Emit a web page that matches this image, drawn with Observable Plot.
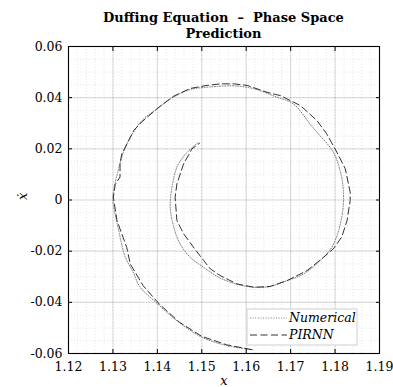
<!DOCTYPE html>
<html>
<head>
<meta charset="utf-8">
<script src="https://cdn.jsdelivr.net/npm/d3@7"></script>
<script src="https://cdn.jsdelivr.net/npm/@observablehq/plot@0.6"></script>
<style>
  body { margin: 0; background: white; width: 393px; height: 387px; overflow: hidden; position: relative; }
  #title { position: absolute; left: 68px; top: 0; width: 311px; height: 40px; padding-top: 10px; box-sizing: border-box; z-index: 2;
    font-family: "DejaVu Serif", serif; font-weight: bold; font-size: 13px; line-height: 15.5px; text-align: center; white-space: pre; color: #000; }
  #chart { position: absolute; left: 0; top: 30px; }
</style>
</head>
<body>
<div id="chart"></div>
<div id="title">Duffing Equation  –  Phase Space
Prediction</div>
<script>
// Numerical solution (phase space: x, x-dot)
const xNum = [1.1615,1.1556,1.1500,1.1450,1.1400,1.1361,1.1345,1.1328,1.1313,1.1300,1.1303,1.1310,1.1318,1.1328,1.1362,1.1399,1.1436,1.1474,1.1512,1.1545,1.1575,1.1617,1.1669,1.1706,1.1749,1.1796,1.1812,1.1818,1.1818,1.1808,1.1793,1.1774,1.1729,1.1692,1.1647,1.1602,1.1564,1.1538,1.1504,1.1474,1.1451,1.1437,1.1429,1.1433,1.1444,1.1459,1.1475,1.1493];
const vNum = [-0.0585,-0.0569,-0.0536,-0.0480,-0.0405,-0.0340,-0.0280,-0.0224,-0.0119,0.0000,0.0050,0.0102,0.0155,0.0206,0.0304,0.0356,0.0402,0.0432,0.0441,0.0445,0.0446,0.0435,0.0402,0.0376,0.0285,0.0187,0.0110,0.0050,-0.0030,-0.0119,-0.0184,-0.0224,-0.0289,-0.0315,-0.0340,-0.0338,-0.0321,-0.0302,-0.0263,-0.0224,-0.0171,-0.0106,-0.0028,0.0050,0.0128,0.0170,0.0200,0.0226];
// PIRNN prediction
const xPir = [1.1612,1.1556,1.1500,1.1450,1.1405,1.1368,1.1339,1.1331,1.1309,1.1301,1.1305,1.1316,1.1316,1.1316,1.1320,1.1347,1.1365,1.1400,1.1436,1.1474,1.1512,1.1542,1.1572,1.1602,1.1647,1.1677,1.1722,1.1759,1.1781,1.1804,1.1823,1.1834,1.1834,1.1827,1.1815,1.1796,1.1774,1.1737,1.1692,1.1654,1.1617,1.1579,1.1541,1.1519,1.1504,1.1481,1.1459,1.1444,1.1440,1.1444,1.1459,1.1478,1.1495];
const vPir = [-0.0585,-0.0566,-0.0533,-0.0478,-0.0408,-0.0335,-0.0250,-0.0185,-0.0080,0.0011,0.0060,0.0090,0.0128,0.0145,0.0180,0.0272,0.0305,0.0358,0.0405,0.0436,0.0448,0.0454,0.0454,0.0448,0.0421,0.0408,0.0369,0.0311,0.0259,0.0187,0.0122,0.0030,-0.0002,-0.0080,-0.0145,-0.0191,-0.0224,-0.0276,-0.0315,-0.0338,-0.0341,-0.0328,-0.0295,-0.0269,-0.0236,-0.0184,-0.0132,-0.0080,0.0011,0.0063,0.0141,0.0200,0.0222];
const xTicks = [1.12,1.13,1.14,1.15,1.16,1.17,1.18,1.19];
const yTicks = [-0.06,-0.04,-0.02,0,0.02,0.04,0.06];
const xMinor = d3.range(0, 36).map(i => +(1.12 + i*0.002).toFixed(3));
const yMinor = d3.range(0, 25).map(i => +(-0.06 + i*0.005).toFixed(3));
const seriesNames = ["Numerical", "PIRNN"];

const numData = xNum.map((x, i) => ({x, v: vNum[i]}));
const pirData = xPir.map((x, i) => ({x, v: vPir[i]}));

const fmtY = d => d === 0 ? "0" : d.toFixed(2);
const fmtX = d => d.toFixed(2);
const FONT = "'DejaVu Serif', serif";

const chart = Plot.plot({
  width: 393,
  height: 357,
  marginLeft: 68,
  marginRight: 14,
  marginTop: 16,
  marginBottom: 34,
  style: {fontFamily: FONT, fontSize: "12.5px", background: "transparent", color: "black"},
  x: {domain: [1.12, 1.19], label: null},
  y: {domain: [-0.06, 0.06], label: null},
  marks: [
    Plot.ruleX(xMinor, {stroke: "#000", strokeOpacity: 0.12, strokeDasharray: "1,2", strokeWidth: 0.8}),
    Plot.ruleY(yMinor, {stroke: "#000", strokeOpacity: 0.12, strokeDasharray: "1,2", strokeWidth: 0.8}),
    Plot.ruleX(xTicks, {stroke: "#000", strokeOpacity: 0.12, strokeWidth: 1.2}),
    Plot.ruleY(yTicks, {stroke: "#000", strokeOpacity: 0.12, strokeWidth: 1.2}),
    Plot.line(numData, {x: "x", y: "v", stroke: "#7a7a7a", strokeWidth: 1, strokeDasharray: "1,1.6", curve: "catmull-rom"}),
    Plot.line(pirData, {x: "x", y: "v", stroke: "#333", strokeWidth: 1, strokeDasharray: "7,3.5"}),
    Plot.axisX({anchor: "bottom", ticks: xTicks, tickFormat: fmtX, tickSize: 0, tickPadding: 8.5, label: null}),
    Plot.axisY({anchor: "left", ticks: yTicks, tickFormat: fmtY, tickSize: 0, tickPadding: 6, label: null}),
    Plot.axisX({anchor: "bottom", ticks: xTicks, tickSize: 4, dy: -4, text: null, label: null, strokeWidth: 1}),
    Plot.axisX({anchor: "top", ticks: xTicks, tickSize: 4, dy: 4, text: null, label: null, strokeWidth: 1}),
    Plot.axisY({anchor: "left", ticks: yTicks, tickSize: 4, dx: 4, text: null, label: null, strokeWidth: 1}),
    Plot.axisY({anchor: "right", ticks: yTicks, tickSize: 4, dx: -4, text: null, label: null, strokeWidth: 1}),
    Plot.frame({stroke: "black", strokeWidth: 1.1}),
    Plot.text(["x"], {frameAnchor: "bottom", dy: 31, fontStyle: "italic", fontSize: 13}),
    Plot.text(["ẋ"], {frameAnchor: "left", dx: -46, rotate: -90, fontStyle: "italic", fontSize: 13})
  ]
});
document.getElementById("chart").appendChild(chart);

// Legend (inside lower right of axes)
const svg = d3.select(chart);
const lg = svg.append("g").attr("transform", "translate(247,279)");
lg.append("rect").attr("width", 110).attr("height", 36).attr("fill", "white").attr("stroke", "#d0d0d0").attr("stroke-width", 1);
const styles = [
  {stroke: "#7a7a7a", dash: "1,1.6"},
  {stroke: "#333", dash: "7,3.5"}
];
seriesNames.forEach((name, i) => {
  const yy = 9 + i * 17;
  lg.append("line").attr("x1", 3).attr("x2", 40).attr("y1", yy).attr("y2", yy)
    .attr("stroke", styles[i].stroke).attr("stroke-width", 1).attr("stroke-dasharray", styles[i].dash);
  lg.append("text").attr("x", 42).attr("y", yy).attr("dy", "0.35em")
    .attr("text-anchor", "start")
    .attr("font-family", FONT).attr("font-style", "italic").attr("font-size", 12.5)
    .attr("fill", "black").text(name);
});
</script>
</body>
</html>
